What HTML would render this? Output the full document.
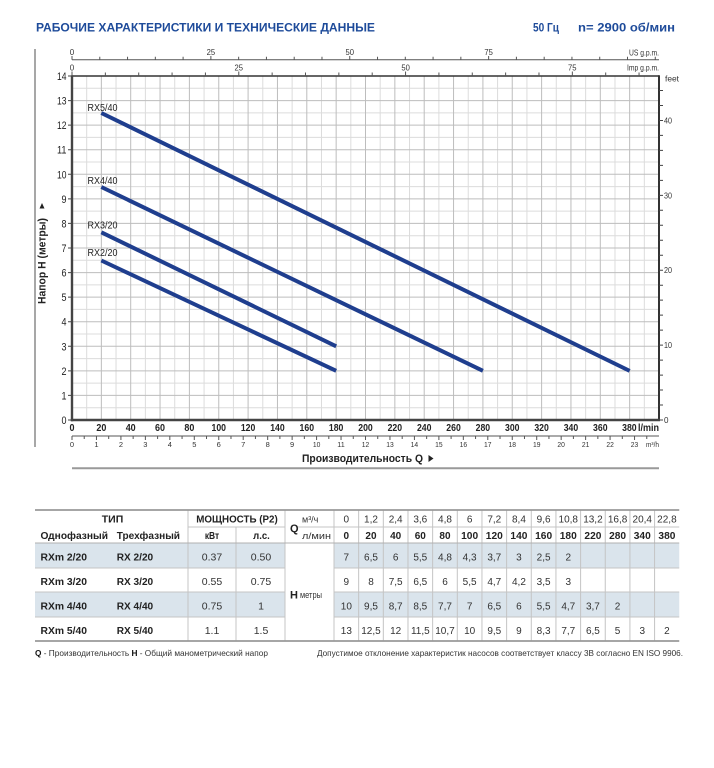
<!DOCTYPE html>
<html><head><meta charset="utf-8"><style>
html,body{margin:0;padding:0;background:#fff;}
svg{display:block;}
text{font-family:"Liberation Sans","DejaVu Sans",sans-serif;}
</style></head><body>
<svg width="714" height="768" viewBox="0 0 714 768" xmlns="http://www.w3.org/2000/svg">
<rect width="714" height="768" fill="#fff"/>

<!-- Header -->
<text x="36" y="31.7" font-size="12" font-weight="bold" fill="#1e4b9a" textLength="339" lengthAdjust="spacingAndGlyphs">РАБОЧИЕ ХАРАКТЕРИСТИКИ И ТЕХНИЧЕСКИЕ ДАННЫЕ</text>
<text x="533" y="31.7" font-size="12" font-weight="bold" fill="#1e4b9a" textLength="26" lengthAdjust="spacingAndGlyphs">50 Гц</text>
<text x="578" y="31.7" font-size="12" font-weight="bold" fill="#1e4b9a" textLength="97" lengthAdjust="spacingAndGlyphs">n= 2900 об/мин</text>

<!-- left gray frame line -->
<line x1="35" y1="49" x2="35" y2="447" stroke="#8a8a8a" stroke-width="1.5"/>

<!-- Grid -->
<path fill="none" stroke="#dcdcdc" stroke-width="1" d="M86.68 76V420M116.03 76V420M145.38 76V420M174.73 76V420M204.08 76V420M233.43 76V420M262.78 76V420M292.13 76V420M321.48 76V420M350.83 76V420M380.18 76V420M409.53 76V420M438.88 76V420M468.23 76V420M497.58 76V420M526.93 76V420M556.28 76V420M585.63 76V420M614.98 76V420M644.33 76V420
M72 407.71H659M72 383.14H659M72 358.57H659M72 334H659M72 309.43H659M72 284.86H659M72 260.29H659M72 235.71H659M72 211.14H659M72 186.57H659M72 162H659M72 137.43H659M72 112.86H659M72 88.29H659"/>
<path fill="none" stroke="#bdbdbd" stroke-width="1" d="M101.35 76V420M130.7 76V420M160.05 76V420M189.4 76V420M218.75 76V420M248.1 76V420M277.45 76V420M306.8 76V420M336.15 76V420M365.5 76V420M394.85 76V420M424.2 76V420M453.55 76V420M482.9 76V420M512.25 76V420M541.6 76V420M570.95 76V420M600.3 76V420M629.65 76V420
M72 395.43H659M72 370.86H659M72 346.29H659M72 321.71H659M72 297.14H659M72 272.57H659M72 248H659M72 223.43H659M72 198.86H659M72 174.29H659M72 149.71H659M72 125.14H659M72 100.57H659"/>

<!-- Plot border -->
<line x1="72" y1="76" x2="659" y2="76" stroke="#333" stroke-width="1.5"/>
<line x1="659" y1="75.3" x2="659" y2="421" stroke="#333" stroke-width="2"/>
<line x1="72" y1="75.3" x2="72" y2="421.2" stroke="#444" stroke-width="2.4"/>
<line x1="70.8" y1="420" x2="660" y2="420" stroke="#444" stroke-width="2.4"/>

<!-- Left ticks -->
<path fill="none" stroke="#444" stroke-width="1" d="M68 420H72M68 395.43H72M68 370.86H72M68 346.29H72M68 321.71H72M68 297.14H72M68 272.57H72M68 248H72M68 223.43H72M68 198.86H72M68 174.29H72M68 149.71H72M68 125.14H72M68 100.57H72M68 76H72"/>

<!-- Y tick labels -->
<g font-size="11" fill="#222" text-anchor="end">
<text x="66.5" y="424" textLength="5" lengthAdjust="spacingAndGlyphs">0</text>
<text x="66.5" y="399.4" textLength="5" lengthAdjust="spacingAndGlyphs">1</text>
<text x="66.5" y="374.9" textLength="5" lengthAdjust="spacingAndGlyphs">2</text>
<text x="66.5" y="350.3" textLength="5" lengthAdjust="spacingAndGlyphs">3</text>
<text x="66.5" y="325.7" textLength="5" lengthAdjust="spacingAndGlyphs">4</text>
<text x="66.5" y="301.1" textLength="5" lengthAdjust="spacingAndGlyphs">5</text>
<text x="66.5" y="276.6" textLength="5" lengthAdjust="spacingAndGlyphs">6</text>
<text x="66.5" y="252" textLength="5" lengthAdjust="spacingAndGlyphs">7</text>
<text x="66.5" y="227.4" textLength="5" lengthAdjust="spacingAndGlyphs">8</text>
<text x="66.5" y="202.9" textLength="5" lengthAdjust="spacingAndGlyphs">9</text>
<text x="66.5" y="178.3" textLength="9.5" lengthAdjust="spacingAndGlyphs">10</text>
<text x="66.5" y="153.7" textLength="9.5" lengthAdjust="spacingAndGlyphs">11</text>
<text x="66.5" y="129.1" textLength="9.5" lengthAdjust="spacingAndGlyphs">12</text>
<text x="66.5" y="104.6" textLength="9.5" lengthAdjust="spacingAndGlyphs">13</text>
<text x="66.5" y="80" textLength="9.5" lengthAdjust="spacingAndGlyphs">14</text>
</g>

<!-- Y axis title -->
<text transform="translate(45.5,304) rotate(-90)" font-size="11" font-weight="bold" fill="#222" textLength="86" lengthAdjust="spacingAndGlyphs">Напор Н (метры)</text>
<polygon points="39.5,208.5 44.5,208.5 42,203" fill="#222"/>

<!-- Top US gpm axis -->
<line x1="72" y1="59.7" x2="659" y2="59.7" stroke="#555" stroke-width="1"/>
<path fill="none" stroke="#555" stroke-width="1" d="M72 59.7V56M99.78 59.7V56.7M127.55 59.7V56.7M155.33 59.7V56.7M183.1 59.7V56.7M210.88 59.7V56M238.65 59.7V56.7M266.43 59.7V56.7M294.2 59.7V56.7M321.98 59.7V56.7M349.75 59.7V56M377.53 59.7V56.7M405.3 59.7V56.7M433.08 59.7V56.7M460.85 59.7V56.7M488.63 59.7V56M516.4 59.7V56.7M544.18 59.7V56.7M571.95 59.7V56.7M599.73 59.7V56.7M627.5 59.7V56.7M655.28 59.7V56.7"/>
<g font-size="8" fill="#333" text-anchor="middle">
<text x="72" y="55">0</text>
<text x="210.9" y="55" textLength="8.5" lengthAdjust="spacingAndGlyphs">25</text>
<text x="349.8" y="55" textLength="8.5" lengthAdjust="spacingAndGlyphs">50</text>
<text x="488.6" y="55" textLength="8.5" lengthAdjust="spacingAndGlyphs">75</text>
</g>
<text x="629" y="55.5" font-size="8.5" fill="#333" textLength="30" lengthAdjust="spacingAndGlyphs">US g.p.m.</text>

<!-- Imp gpm axis -->
<path fill="none" stroke="#555" stroke-width="1" d="M72 76V71.5M105.36 76V72.5M138.71 76V72.5M172.07 76V72.5M205.42 76V72.5M238.78 76V71.5M272.14 76V72.5M305.49 76V72.5M338.85 76V72.5M372.2 76V72.5M405.56 76V71.5M438.92 76V72.5M472.27 76V72.5M505.63 76V72.5M538.98 76V72.5M572.34 76V71.5M605.7 76V72.5M639.05 76V72.5"/>
<g font-size="8" fill="#333" text-anchor="middle">
<text x="72" y="70.5">0</text>
<text x="238.8" y="70.5" textLength="8.5" lengthAdjust="spacingAndGlyphs">25</text>
<text x="405.6" y="70.5" textLength="8.5" lengthAdjust="spacingAndGlyphs">50</text>
<text x="572.3" y="70.5" textLength="8.5" lengthAdjust="spacingAndGlyphs">75</text>
</g>
<text x="627" y="70.7" font-size="8.5" fill="#333" textLength="32" lengthAdjust="spacingAndGlyphs">Imp g.p.m.</text>

<!-- Right feet axis -->
<path fill="none" stroke="#444" stroke-width="1" d="M659 420H663M659 405.02H663M659 390.04H663M659 375.07H663M659 360.09H663M659 345.11H663M659 330.13H663M659 315.15H663M659 300.18H663M659 285.2H663M659 270.22H663M659 255.24H663M659 240.26H663M659 225.29H663M659 210.31H663M659 195.33H663M659 180.35H663M659 165.37H663M659 150.4H663M659 135.42H663M659 120.44H663M659 105.46H663M659 90.48H663"/>
<g font-size="8.5" fill="#333">
<text x="664" y="423" textLength="4.5" lengthAdjust="spacingAndGlyphs">0</text>
<text x="664" y="348.1" textLength="8" lengthAdjust="spacingAndGlyphs">10</text>
<text x="664" y="273.2" textLength="8" lengthAdjust="spacingAndGlyphs">20</text>
<text x="664" y="198.3" textLength="8" lengthAdjust="spacingAndGlyphs">30</text>
<text x="664" y="123.4" textLength="8" lengthAdjust="spacingAndGlyphs">40</text>
<text x="665" y="81.7" textLength="14" lengthAdjust="spacingAndGlyphs">feet</text>
</g>

<!-- Curves -->
<g stroke="#1f3e8e" stroke-width="4" fill="none">
<line x1="101.35" y1="113" x2="629.65" y2="370.86"/>
<line x1="101.35" y1="187" x2="482.9" y2="370.86"/>
<line x1="101.35" y1="232.3" x2="336.15" y2="346.3"/>
<line x1="101.35" y1="260.5" x2="336.15" y2="370.86"/>
</g>
<g font-size="10" fill="#222">
<text x="87.5" y="110.8" textLength="30" lengthAdjust="spacingAndGlyphs">RX5/40</text>
<text x="87.5" y="184" textLength="30" lengthAdjust="spacingAndGlyphs">RX4/40</text>
<text x="87.5" y="228.3" textLength="30" lengthAdjust="spacingAndGlyphs">RX3/20</text>
<text x="87.5" y="256" textLength="30" lengthAdjust="spacingAndGlyphs">RX2/20</text>
</g>

<!-- Bottom l/min labels -->
<g font-size="10.5" font-weight="bold" fill="#222" text-anchor="middle">
<text x="72" y="431" textLength="5" lengthAdjust="spacingAndGlyphs">0</text>
<text x="101.35" y="431" textLength="10" lengthAdjust="spacingAndGlyphs">20</text>
<text x="130.7" y="431" textLength="10" lengthAdjust="spacingAndGlyphs">40</text>
<text x="160.05" y="431" textLength="10" lengthAdjust="spacingAndGlyphs">60</text>
<text x="189.4" y="431" textLength="10" lengthAdjust="spacingAndGlyphs">80</text>
<text x="218.75" y="431" textLength="14.5" lengthAdjust="spacingAndGlyphs">100</text>
<text x="248.1" y="431" textLength="14.5" lengthAdjust="spacingAndGlyphs">120</text>
<text x="277.45" y="431" textLength="14.5" lengthAdjust="spacingAndGlyphs">140</text>
<text x="306.8" y="431" textLength="14.5" lengthAdjust="spacingAndGlyphs">160</text>
<text x="336.15" y="431" textLength="14.5" lengthAdjust="spacingAndGlyphs">180</text>
<text x="365.5" y="431" textLength="14.5" lengthAdjust="spacingAndGlyphs">200</text>
<text x="394.85" y="431" textLength="14.5" lengthAdjust="spacingAndGlyphs">220</text>
<text x="424.2" y="431" textLength="14.5" lengthAdjust="spacingAndGlyphs">240</text>
<text x="453.55" y="431" textLength="14.5" lengthAdjust="spacingAndGlyphs">260</text>
<text x="482.9" y="431" textLength="14.5" lengthAdjust="spacingAndGlyphs">280</text>
<text x="512.25" y="431" textLength="14.5" lengthAdjust="spacingAndGlyphs">300</text>
<text x="541.6" y="431" textLength="14.5" lengthAdjust="spacingAndGlyphs">320</text>
<text x="570.95" y="431" textLength="14.5" lengthAdjust="spacingAndGlyphs">340</text>
<text x="600.3" y="431" textLength="14.5" lengthAdjust="spacingAndGlyphs">360</text>
<text x="629.4" y="431" textLength="14.5" lengthAdjust="spacingAndGlyphs">380</text>
</g>
<text x="638" y="431" font-size="10.5" font-weight="bold" fill="#222" textLength="21" lengthAdjust="spacingAndGlyphs">l/min</text>

<!-- m3/h axis -->
<line x1="72" y1="436" x2="659" y2="436" stroke="#555" stroke-width="1"/>
<path fill="none" stroke="#555" stroke-width="1" d="M72 436V440M96.46 436V440M120.92 436V440M145.38 436V440M169.83 436V440M194.29 436V440M218.75 436V440M243.21 436V440M267.67 436V440M292.13 436V440M316.58 436V440M341.04 436V440M365.5 436V440M389.96 436V440M414.42 436V440M438.88 436V440M463.33 436V440M487.79 436V440M512.25 436V440M536.71 436V440M561.17 436V440M585.63 436V440M610.08 436V440M634.54 436V440
M84.23 436V439M108.69 436V439M133.15 436V439M157.6 436V439M182.06 436V439M206.52 436V439M230.98 436V439M255.44 436V439M279.9 436V439M304.35 436V439M328.81 436V439M353.27 436V439M377.73 436V439M402.19 436V439M426.65 436V439M451.1 436V439M475.56 436V439M500.02 436V439M524.48 436V439M548.94 436V439M573.4 436V439M597.85 436V439M622.31 436V439M646.77 436V439"/>
<g font-size="7.5" fill="#333" text-anchor="middle">
<text x="72" y="447">0</text><text x="96.46" y="447">1</text><text x="120.92" y="447">2</text><text x="145.38" y="447">3</text><text x="169.83" y="447">4</text><text x="194.29" y="447">5</text><text x="218.75" y="447">6</text><text x="243.21" y="447">7</text><text x="267.67" y="447">8</text><text x="292.13" y="447">9</text>
<text x="316.58" y="447" textLength="7.5" lengthAdjust="spacingAndGlyphs">10</text><text x="341.04" y="447" textLength="7.5" lengthAdjust="spacingAndGlyphs">11</text><text x="365.5" y="447" textLength="7.5" lengthAdjust="spacingAndGlyphs">12</text><text x="389.96" y="447" textLength="7.5" lengthAdjust="spacingAndGlyphs">13</text><text x="414.42" y="447" textLength="7.5" lengthAdjust="spacingAndGlyphs">14</text><text x="438.88" y="447" textLength="7.5" lengthAdjust="spacingAndGlyphs">15</text><text x="463.33" y="447" textLength="7.5" lengthAdjust="spacingAndGlyphs">16</text><text x="487.79" y="447" textLength="7.5" lengthAdjust="spacingAndGlyphs">17</text><text x="512.25" y="447" textLength="7.5" lengthAdjust="spacingAndGlyphs">18</text><text x="536.71" y="447" textLength="7.5" lengthAdjust="spacingAndGlyphs">19</text><text x="561.17" y="447" textLength="7.5" lengthAdjust="spacingAndGlyphs">20</text><text x="585.63" y="447" textLength="7.5" lengthAdjust="spacingAndGlyphs">21</text><text x="610.08" y="447" textLength="7.5" lengthAdjust="spacingAndGlyphs">22</text><text x="634.54" y="447" textLength="7.5" lengthAdjust="spacingAndGlyphs">23</text>
</g>
<text x="646" y="447" font-size="7.5" fill="#333" textLength="13" lengthAdjust="spacingAndGlyphs">m³/h</text>

<!-- X axis title -->
<text x="302" y="462" font-size="11" font-weight="bold" fill="#222" textLength="121" lengthAdjust="spacingAndGlyphs">Производительность Q</text>
<polygon points="428.5,455 428.5,462 433.5,458.5" fill="#222"/>
<line x1="72" y1="468.3" x2="659" y2="468.3" stroke="#999" stroke-width="2"/>

<!-- ===== TABLE ===== -->
<rect x="35" y="543" width="250" height="25" fill="#dae4ec"/>
<rect x="334" y="543" width="345.24" height="25" fill="#dae4ec"/>
<rect x="35" y="592" width="250" height="25" fill="#dae4ec"/>
<rect x="334" y="592" width="345.24" height="25" fill="#dae4ec"/>

<path fill="none" stroke="#c4c4c4" stroke-width="1" d="M188 510V641M285 510V641M334 510V641M236 527V641
M358.66 510V641M383.32 510V641M407.98 510V641M432.64 510V641M457.3 510V641M481.96 510V641M506.62 510V641M531.28 510V641M555.94 510V641M580.6 510V641M605.26 510V641M629.92 510V641M654.58 510V641
M188 527H285M334 527H679.24M297 527H334
M35 568H285M334 568H679.24M35 592H285M334 592H679.24M35 617H285M334 617H679.24"/>
<line x1="35" y1="543" x2="679.24" y2="543" stroke="#b0b0b0" stroke-width="1"/>
<line x1="35" y1="510" x2="679.24" y2="510" stroke="#999" stroke-width="1.8"/>
<line x1="35" y1="641" x2="679.24" y2="641" stroke="#999" stroke-width="1.8"/>

<!-- table header text -->
<g font-size="10.5" font-weight="bold" fill="#222">
<text x="112.5" y="522.5" text-anchor="middle" textLength="21.5" lengthAdjust="spacingAndGlyphs">ТИП</text>
<text x="237" y="522.5" text-anchor="middle" textLength="81.5" lengthAdjust="spacingAndGlyphs">МОЩНОСТЬ (P2)</text>
<text x="40.5" y="539" textLength="67.5" lengthAdjust="spacingAndGlyphs">Однофазный</text>
<text x="116.7" y="539" textLength="63.3" lengthAdjust="spacingAndGlyphs">Трехфазный</text>
<text x="212" y="539" text-anchor="middle" textLength="14.3" lengthAdjust="spacingAndGlyphs">кВт</text>
<text x="261.5" y="539" text-anchor="middle" textLength="16.7" lengthAdjust="spacingAndGlyphs">л.с.</text>
<text x="290" y="532" font-size="11">Q</text>
<text x="290" y="598.5" font-size="11">Н</text>
</g>
<g font-size="9" fill="#333">
<text x="302" y="522.5">м³/ч</text>
<text x="302" y="539" textLength="29" lengthAdjust="spacingAndGlyphs">л/мин</text>
<text x="300" y="598" textLength="22" lengthAdjust="spacingAndGlyphs">метры</text>
</g>

<!-- header values -->
<g font-size="10" fill="#333" text-anchor="middle">
<text x="346.33" y="522.5">0</text><text x="370.99" y="522.5">1,2</text><text x="395.65" y="522.5">2,4</text><text x="420.31" y="522.5">3,6</text><text x="444.97" y="522.5">4,8</text><text x="469.63" y="522.5">6</text><text x="494.29" y="522.5">7,2</text><text x="518.95" y="522.5">8,4</text><text x="543.61" y="522.5">9,6</text><text x="568.27" y="522.5">10,8</text><text x="592.93" y="522.5">13,2</text><text x="617.59" y="522.5">16,8</text><text x="642.25" y="522.5">20,4</text><text x="666.91" y="522.5">22,8</text>
</g>
<g font-size="10" font-weight="bold" fill="#222" text-anchor="middle">
<text x="346.33" y="539">0</text><text x="370.99" y="539">20</text><text x="395.65" y="539">40</text><text x="420.31" y="539">60</text><text x="444.97" y="539">80</text><text x="469.63" y="539" textLength="17" lengthAdjust="spacingAndGlyphs">100</text><text x="494.29" y="539" textLength="17" lengthAdjust="spacingAndGlyphs">120</text><text x="518.95" y="539" textLength="17" lengthAdjust="spacingAndGlyphs">140</text><text x="543.61" y="539" textLength="17" lengthAdjust="spacingAndGlyphs">160</text><text x="568.27" y="539" textLength="17" lengthAdjust="spacingAndGlyphs">180</text><text x="592.93" y="539" textLength="17" lengthAdjust="spacingAndGlyphs">220</text><text x="617.59" y="539" textLength="17" lengthAdjust="spacingAndGlyphs">280</text><text x="642.25" y="539" textLength="17" lengthAdjust="spacingAndGlyphs">340</text><text x="666.91" y="539" textLength="17" lengthAdjust="spacingAndGlyphs">380</text>
</g>

<!-- model rows -->
<g font-size="10.5" font-weight="bold" fill="#222">
<text x="40.5" y="560.5" textLength="46.5" lengthAdjust="spacingAndGlyphs">RXm 2/20</text>
<text x="116.7" y="560.5" textLength="36.5" lengthAdjust="spacingAndGlyphs">RX 2/20</text>
<text x="40.5" y="585" textLength="46.5" lengthAdjust="spacingAndGlyphs">RXm 3/20</text>
<text x="116.7" y="585" textLength="36.5" lengthAdjust="spacingAndGlyphs">RX 3/20</text>
<text x="40.5" y="609.5" textLength="46.5" lengthAdjust="spacingAndGlyphs">RXm 4/40</text>
<text x="116.7" y="609.5" textLength="36.5" lengthAdjust="spacingAndGlyphs">RX 4/40</text>
<text x="40.5" y="634" textLength="46.5" lengthAdjust="spacingAndGlyphs">RXm 5/40</text>
<text x="116.7" y="634" textLength="36.5" lengthAdjust="spacingAndGlyphs">RX 5/40</text>
</g>
<g font-size="10.5" fill="#333" text-anchor="middle">
<text x="212" y="560.5">0.37</text><text x="261" y="560.5">0.50</text>
<text x="212" y="585">0.55</text><text x="261" y="585">0.75</text>
<text x="212" y="609.5">0.75</text><text x="261" y="609.5">1</text>
<text x="212" y="634">1.1</text><text x="261" y="634">1.5</text>
</g>

<!-- data values -->
<g font-size="10" fill="#333" text-anchor="middle">
<text x="346.33" y="560.5">7</text><text x="370.99" y="560.5">6,5</text><text x="395.65" y="560.5">6</text><text x="420.31" y="560.5">5,5</text><text x="444.97" y="560.5">4,8</text><text x="469.63" y="560.5">4,3</text><text x="494.29" y="560.5">3,7</text><text x="518.95" y="560.5">3</text><text x="543.61" y="560.5">2,5</text><text x="568.27" y="560.5">2</text>

<text x="346.33" y="585">9</text><text x="370.99" y="585">8</text><text x="395.65" y="585">7,5</text><text x="420.31" y="585">6,5</text><text x="444.97" y="585">6</text><text x="469.63" y="585">5,5</text><text x="494.29" y="585">4,7</text><text x="518.95" y="585">4,2</text><text x="543.61" y="585">3,5</text><text x="568.27" y="585">3</text>

<text x="346.33" y="609.5">10</text><text x="370.99" y="609.5">9,5</text><text x="395.65" y="609.5">8,7</text><text x="420.31" y="609.5">8,5</text><text x="444.97" y="609.5">7,7</text><text x="469.63" y="609.5">7</text><text x="494.29" y="609.5">6,5</text><text x="518.95" y="609.5">6</text><text x="543.61" y="609.5">5,5</text><text x="568.27" y="609.5">4,7</text><text x="592.93" y="609.5">3,7</text><text x="617.59" y="609.5">2</text>

<text x="346.33" y="634">13</text><text x="370.99" y="634">12,5</text><text x="395.65" y="634">12</text><text x="420.31" y="634">11,5</text><text x="444.97" y="634">10,7</text><text x="469.63" y="634">10</text><text x="494.29" y="634">9,5</text><text x="518.95" y="634">9</text><text x="543.61" y="634">8,3</text><text x="568.27" y="634">7,7</text><text x="592.93" y="634">6,5</text><text x="617.59" y="634">5</text><text x="642.25" y="634">3</text><text x="666.91" y="634">2</text>
</g>

<!-- Footer -->
<text x="35" y="656" font-size="8.5" fill="#333" textLength="233" lengthAdjust="spacingAndGlyphs"><tspan font-weight="bold" fill="#111">Q</tspan> - Производительность   <tspan font-weight="bold" fill="#111">Н</tspan> - Общий манометрический напор</text>
<text x="317" y="656" font-size="8.5" fill="#333" textLength="366" lengthAdjust="spacingAndGlyphs">Допустимое отклонение характеристик насосов соответствует классу 3B согласно EN ISO 9906.</text>
</svg>
</body></html>
